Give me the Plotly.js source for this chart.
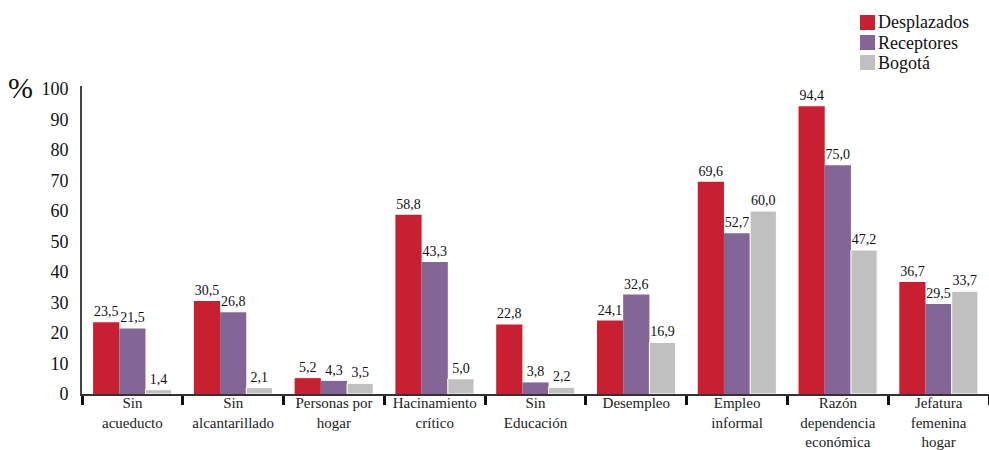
<!DOCTYPE html>
<html>
<head>
<meta charset="utf-8">
<script src="https://cdn.plot.ly/plotly-3.0.1.min.js"></script>
<style>html,body{margin:0;padding:0;background:#fff;}#chart{width:989px;height:450px;}</style>
</head>
<body>
<div id="chart"></div>
<script>
const categories = [
  "Sin<br>acueducto",
  "Sin<br>alcantarillado",
  "Personas por<br>hogar",
  "Hacinamiento<br>crítico",
  "Sin<br>Educación",
  "Desempleo",
  "Empleo<br>informal",
  "Razón<br>dependencia<br>económica",
  "Jefatura<br>femenina<br>hogar"
];
const seriesNames = ["Desplazados", "Receptores", "Bogotá"];
const desplazados = [23.5, 30.5, 5.2, 58.8, 22.8, 24.1, 69.6, 94.4, 36.7];
const receptores  = [21.5, 26.8, 4.3, 43.3, 3.8, 32.6, 52.7, 75.0, 29.5];
const bogota      = [1.4, 2.1, 3.5, 5.0, 2.2, 16.9, 60.0, 47.2, 33.7];
const colors = ["#C92031", "#836696", "#C0C0C0"];
const yTicks = [0, 10, 20, 30, 40, 50, 60, 70, 80, 90, 100];

const FONT = "Liberation Serif, Times New Roman, serif";
const series = [desplazados, receptores, bogota];

const traces = series.map((vals, i) => ({
  type: "bar",
  name: seriesNames[i],
  x: categories,
  y: vals,
  text: vals.map(v => v.toFixed(1).replace(".", ",")),
  textposition: "outside",
  constraintext: "none",
  cliponaxis: false,
  textfont: {family: FONT, size: 14, color: "#111"},
  marker: {color: colors[i], line: {color: "#fff", width: i === 2 ? 1 : 0}},
  hoverinfo: "skip",
  showlegend: false
}));

// layout geometry (pixels)
const W = 989, H = 450;
const mL = 82, mR = 0, mT = 86, mB = 56;
const pw = W - mL - mR, ph = H - mT - mB;
const px = x => (x - mL) / pw;
const py = y => (H - mB - y) / ph;

const shapes = [];
const annotations = [];
seriesNames.forEach((name, i) => {
  const top = 15 + i * 20;
  shapes.push({
    type: "rect", xref: "paper", yref: "paper",
    x0: px(860), x1: px(875), y0: py(top + 15), y1: py(top),
    fillcolor: colors[i], line: {width: 0}
  });
  annotations.push({
    xref: "paper", yref: "paper", x: px(876), y: py(top + 7.5),
    xanchor: "left", yanchor: "middle", showarrow: false,
    text: name, font: {family: FONT, size: 18, color: "#111"}
  });
});
annotations.push({
  xref: "paper", yref: "paper", x: px(6), y: py(87),
  xanchor: "left", yanchor: "middle", showarrow: false,
  text: "%", font: {family: FONT, size: 30, color: "#111"}
});

const layout = {
  width: W, height: H,
  margin: {l: mL, r: mR, t: mT, b: mB, pad: 0},
  paper_bgcolor: "#fff", plot_bgcolor: "#fff",
  barmode: "group",
  bargap: 0.22,
  bargroupgap: 0,
  separators: ",.",
  font: {family: FONT, color: "#111"},
  xaxis: {
    type: "category",
    showline: true, linecolor: "#333", linewidth: 2,
    ticks: "outside", tickson: "boundaries", ticklen: 9, tickwidth: 3, tickcolor: "#111",
    ticklabelstandoff: -6,
    tickfont: {family: FONT, size: 15, color: "#222"},
    showgrid: false, zeroline: false
  },
  yaxis: {
    range: [0, 101],
    tickvals: yTicks,
    ticktext: yTicks.map(String),
    showline: true, linecolor: "#444", linewidth: 2,
    ticks: "outside", ticklen: 8, tickcolor: "rgba(0,0,0,0)",
    tickfont: {family: FONT, size: 18, color: "#111"},
    showgrid: false, zeroline: false
  },
  shapes: shapes,
  annotations: annotations,
  showlegend: false
};

Plotly.newPlot("chart", traces, layout, {displayModeBar: false, staticPlot: true});
</script>
</body>
</html>
